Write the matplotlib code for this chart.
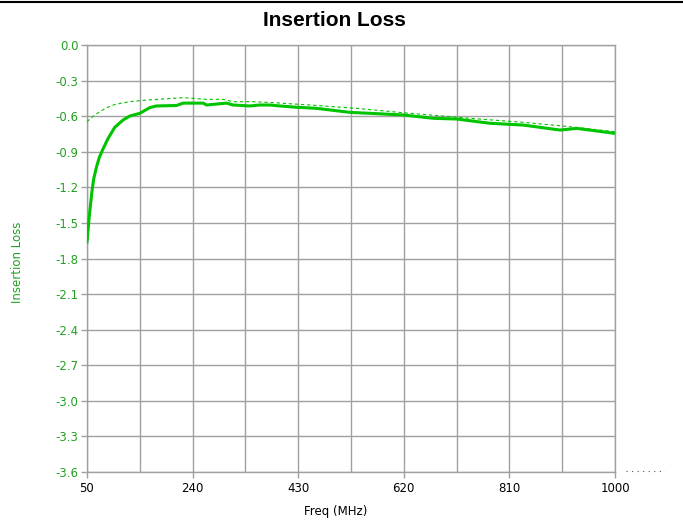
import matplotlib
matplotlib.use("Agg")
import matplotlib.pyplot as plt
import numpy as np

title = "Insertion Loss"
x_label = "Freq (MHz)"
y_label = "Insertion Loss"

x_ticks = [50, 240, 430, 620, 810, 1000]
y_ticks = [0.0, -0.3, -0.6, -0.9, -1.2, -1.5, -1.8, -2.1, -2.4, -2.7, -3.0, -3.3, -3.6]

meas_freq = [50, 54, 58.5, 62, 67, 72, 78, 88, 100, 115, 127, 145, 163, 175, 211, 223,
             259, 265, 301, 313, 343, 361, 379, 397, 427, 463, 523, 559, 619, 673, 715,
             775, 835, 901, 931, 1000]
meas_loss = [-1.66, -1.45, -1.25, -1.13, -1.03, -0.95, -0.885, -0.787, -0.694, -0.632,
             -0.599, -0.576, -0.528, -0.514, -0.51, -0.49, -0.49, -0.506, -0.49, -0.506,
             -0.514, -0.506, -0.506, -0.514, -0.525, -0.534, -0.568, -0.576, -0.59,
             -0.618, -0.624, -0.66, -0.675, -0.717, -0.703, -0.745]

ref_freq = [50, 60, 73, 85, 97, 112, 127, 157, 187, 223, 265, 295, 313, 349, 385, 451,
            535, 619, 739, 835, 919, 1000]
ref_loss = [-0.647, -0.605, -0.562, -0.53, -0.506, -0.49, -0.478, -0.464, -0.455, -0.444,
            -0.458, -0.458, -0.478, -0.478, -0.486, -0.506, -0.534, -0.571, -0.618,
            -0.652, -0.689, -0.731]

green = "#00C400"
label_green = "#22A022"
grid_gray = "#A0A0A0"

fig = plt.figure(figsize=(6.83, 5.21), dpi=100)
ax = fig.add_axes([87/683, 1-472/521, 528/683, 427/521])

ax.plot(ref_freq, ref_loss, color=green, lw=0.8, ls=(0, (3, 2.5)), zorder=3)
ax.plot(meas_freq, meas_loss, color=green, lw=2.2, zorder=4)

ax.set_xlim(50, 1000)
ax.set_ylim(-3.6, 0.0)
ax.set_xticks(x_ticks)
ax.set_xticks(np.arange(50, 1001, 95), minor=True)
ax.set_yticks(y_ticks)
ax.set_xticklabels([str(v) for v in x_ticks])
ax.set_yticklabels(["%.1f" % v for v in y_ticks])

ax.grid(True, which="both", color=grid_gray, lw=1.0)
ax.set_axisbelow(True)
for s in ax.spines.values():
    s.set_color(grid_gray)
    s.set_linewidth(1.0)

ax.tick_params(axis="x", which="major", length=4, width=1.0, color=grid_gray,
               labelsize=8.5, labelcolor="black", pad=3)
ax.tick_params(axis="x", which="minor", length=0)
ax.tick_params(axis="y", which="major", length=4, width=1.0, color=grid_gray,
               labelsize=8.5, labelcolor=label_green, pad=2)

fig.text(0.49, 0.96, title, ha="center", va="center", fontsize=15,
         fontweight="bold", family="Liberation Sans")
fig.text(336/683, 1-511/521, x_label, ha="center", va="center", fontsize=8.5)
fig.text(18/683, 1-262/521, y_label, ha="center", va="center", fontsize=8.5,
         rotation=90, color=label_green)

fig.add_artist(plt.Line2D([0, 1], [1-2/521, 1-2/521], color="black", lw=1.5,
                          transform=fig.transFigure))
fig.add_artist(plt.Line2D([626/683, 665/683], [1-471/521, 1-471/521], color="#555555",
                          lw=0.8, ls=(0, (1, 4)), transform=fig.transFigure))

fig.savefig("out.png", dpi=100)
